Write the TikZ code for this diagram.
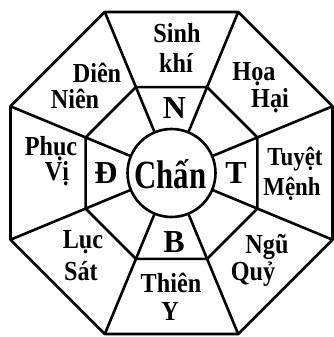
\documentclass[tikz,border=0pt]{standalone}
\usepackage{graphicx}
\usepackage{fontspec}
\setmainfont{Liberation Serif}
\newfontfamily\condserif[FakeStretch=0.88]{Liberation Serif}
\usetikzlibrary{calc}
\begin{document}
\begin{tikzpicture}[x=1pt,y=-1pt, line width=2.6pt, line join=round,
  lbl/.style={font=\condserif\fontsize{27.5}{27.5}\bfseries\selectfont, anchor=base, inner sep=0pt},
  letr/.style={font=\fontsize{32}{32}\bfseries\selectfont, anchor=base, inner sep=0pt}]
\useasboundingbox (0,0) rectangle (333,337);
\coordinate (C) at (171.5,173);
\foreach \i in {0,...,7} {
  \pgfmathsetmacro\a{22.5+45*\i}
  \coordinate (o\i) at ($(C)+(\a:174.3)$);
  \coordinate (m\i) at ($(C)+(\a:93)$);
  \coordinate (c\i) at ($(C)+(\a:44)$);
}
\draw (o0) -- (o1) -- (o2) -- (o3) -- (o4) -- (o5) -- (o6) -- (o7) -- cycle;
\draw (m0) -- (m1) -- (m2) -- (m3) -- (m4) -- (m5) -- (m6) -- (m7) -- cycle;
\draw (C) circle [radius=44];
\foreach \i in {0,...,7} {
  \draw (o\i) -- (m\i) -- (c\i);
}
% outer ring labels
\node[lbl] (sinh) at (177,43) {Sinh};
\node[lbl] (khi) at (176,72) {khí};
\node[lbl] (hoa) at (254,81) {Họa};
\node[lbl] (hai) at (270,107) {Hại};
\node[lbl, font=\condserif\fontsize{26}{26}\bfseries\selectfont] (tuyet) at (295,165) {Tuyệt};
\node[lbl, font=\condserif\fontsize{26}{26}\bfseries\selectfont] (menh) at (292,195) {Mệnh};
\node[lbl] (ngu) at (267,253) {Ngũ};
\node[lbl] (quy) at (253,280) {Quỷ};
\node[lbl] (thien) at (171,292) {Thiên};
\node[lbl] (y) at (170,320) {Y};
\node[lbl] (luc) at (83,248) {Lục};
\node[lbl] (sat) at (81,280) {Sát};
\node[lbl] (phuc) at (51,155) {Phục};
\node[lbl] (vi) at (57,180) {Vị};
\node[lbl] (dien) at (97,82) {Diên};
\node[lbl] (nien) at (75,108) {Niên};
% inner letters
\node[letr] (n) at (174.5,118) {N};
\node[letr] (d) at (106,183) {Đ};
\node[letr] (t) at (236,183) {T};
\node[letr] (b) at (174,252) {B};
\node[anchor=base, inner sep=0pt, font=\fontsize{40}{40}\bfseries\selectfont] (chan) at (170.5,188) {\scalebox{0.77}[1]{Chấn}};
\end{tikzpicture}
\end{document}
